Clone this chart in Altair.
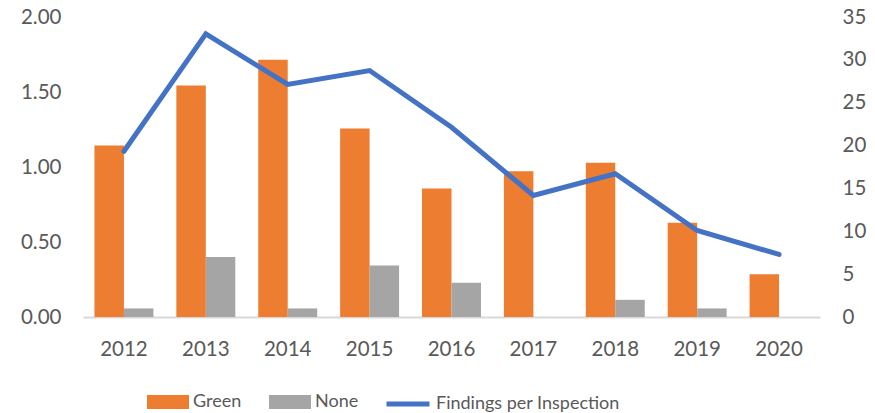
import altair as alt
import pandas as pd

years = ["2012", "2013", "2014", "2015", "2016", "2017", "2018", "2019", "2020"]
green = [20, 27, 30, 22, 15, 17, 18, 11, 5]
none_counts = [1, 7, 1, 6, 4, 0, 2, 1, 0]
findings_per_inspection = [1.105, 1.888, 1.55, 1.643, 1.265, 0.81, 0.955, 0.577, 0.417]

bar_types = ["Green", "None"]
bar_colors = ["#ED7D31", "#A5A5A5"]
line_name = "Findings per Inspection"

bars_df = pd.DataFrame({
    "year": years * 2,
    "type": ["Green"] * len(years) + ["None"] * len(years),
    "count": green + none_counts,
})
line_df = pd.DataFrame({
    "year": years,
    "fpi": findings_per_inspection,
    "series": [line_name] * len(years),
})

FONT = "Lato"
FS = 20.5
LFS = 18
TXT = "#595959"

x_enc = alt.X(
    "year:N", sort=years,
    scale=alt.Scale(paddingInner=0.28, paddingOuter=0.14),
    axis=alt.Axis(title=None, labelAngle=0, ticks=False, domainColor="#D9D9D9",
                  domainWidth=2, labelPadding=22, labelFont=FONT, labelFontSize=FS,
                  labelColor=TXT),
)

bars = alt.Chart(bars_df).mark_bar().encode(
    x=x_enc,
    xOffset=alt.XOffset("type:N", sort=bar_types,
                        scale=alt.Scale(paddingInner=0, paddingOuter=0)),
    y=alt.Y("count:Q", scale=alt.Scale(domain=[0, 35], nice=False),
            axis=alt.Axis(orient="right", title=None, values=list(range(0, 36, 5)),
                          grid=False, ticks=False, domain=False, labelPadding=22,
                          labelFont=FONT, labelFontSize=FS, labelColor=TXT)),
    fill=alt.Fill("type:N", scale=alt.Scale(domain=bar_types, range=bar_colors),
                  legend=alt.Legend(title=None, orient="none", direction="horizontal",
                                    legendX=64, legendY=364,
                                    symbolType="M-1,-0.33H1V0.33H-1Z", symbolSize=1764,
                                    symbolStrokeWidth=0, columnPadding=27,
                                    labelOffset=4, labelFont=FONT, labelFontSize=LFS,
                                    labelColor=TXT, labelLimit=300)),
)

line = alt.Chart(line_df).mark_line(strokeWidth=5, strokeCap="round", strokeJoin="miter").encode(
    x=x_enc,
    y=alt.Y("fpi:Q", scale=alt.Scale(domain=[0, 2], nice=False),
            axis=alt.Axis(orient="left", title=None, values=[0, 0.5, 1.0, 1.5, 2.0],
                          format=".2f", grid=False, ticks=False, domain=False,
                          labelPadding=22, labelFont=FONT, labelFontSize=FS,
                          labelColor=TXT)),
    stroke=alt.Stroke("series:N", scale=alt.Scale(domain=[line_name], range=["#4472C4"]),
                      legend=alt.Legend(title=None, orient="none", direction="horizontal",
                                        legendX=301, legendY=363,
                                        symbolType="stroke", symbolSize=1849,
                                        symbolStrokeWidth=5, labelOffset=4,
                                        labelFont=FONT, labelFontSize=LFS,
                                        labelColor=TXT, labelLimit=300)),
)

chart = alt.layer(bars, line).resolve_scale(
    y="independent", fill="independent", stroke="independent"
).properties(
    width=737, height=300,
    autosize=alt.AutoSizeParams(type="none"),
    padding={"left": 83, "top": 17, "right": 55, "bottom": 96},
    background="white",
).configure_view(stroke=None)

chart.save("out.html", embed_options={"renderer": "svg", "actions": False})
